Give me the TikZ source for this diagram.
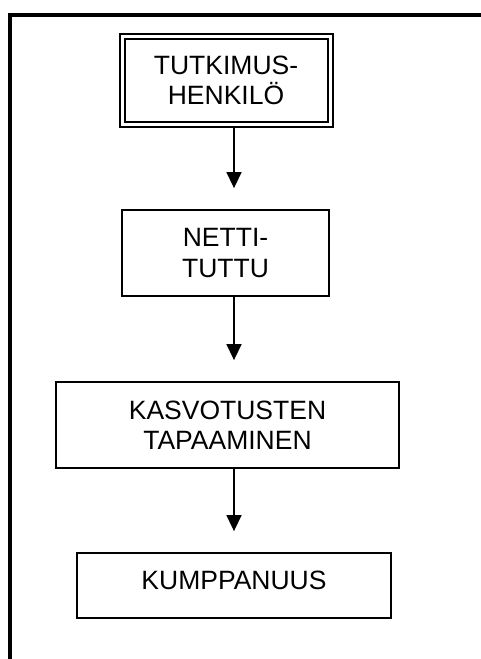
\documentclass[tikz,border=0pt]{standalone}
\usepackage{fontspec}
\setmainfont{Liberation Sans}
\usetikzlibrary{arrows.meta}
\begin{document}
\begin{tikzpicture}[x=1pt,y=-1pt,
  box/.style={draw, line width=1.8pt, align=center, inner sep=0pt,
    font=\fontsize{26.5pt}{30.5pt}\selectfont},
  dbox/.style={box, double, line width=2pt, double distance=3pt},
  arr/.style={line width=1.5pt, -{Triangle[length=16pt,width=15pt]}, shorten >=21pt}]
\useasboundingbox (0,0) rectangle (481,659);
\fill[white] (0,0) rectangle (481,659);
% outer frame (top and left only)
\draw[line width=4pt] (10,661) -- (10,15) -- (483,15);
\coordinate (ax) at (234,0);
\node[dbox, minimum width=208pt, minimum height=88pt] (b1) at (226,80.5) {TUTKIMUS-\\HENKILÖ};
\node[box, minimum width=207pt, minimum height=86pt] (b2) at (225.5,253) {NETTI-\\TUTTU};
\node[box, minimum width=343pt, minimum height=86pt] (b3) at (227.5,425) {KASVOTUSTEN\\TAPAAMINEN};
\node[box, minimum width=314pt, minimum height=65pt, text height=19pt, text depth=12pt] (b4) at (234,585.5) {KUMPPANUUS};
\draw[arr] (b1.south -| ax) -- (b2.north -| ax);
\draw[arr] (b2.south -| ax) -- (b3.north -| ax);
\draw[arr] (b3.south -| ax) -- (b4.north -| ax);
\end{tikzpicture}
\end{document}
